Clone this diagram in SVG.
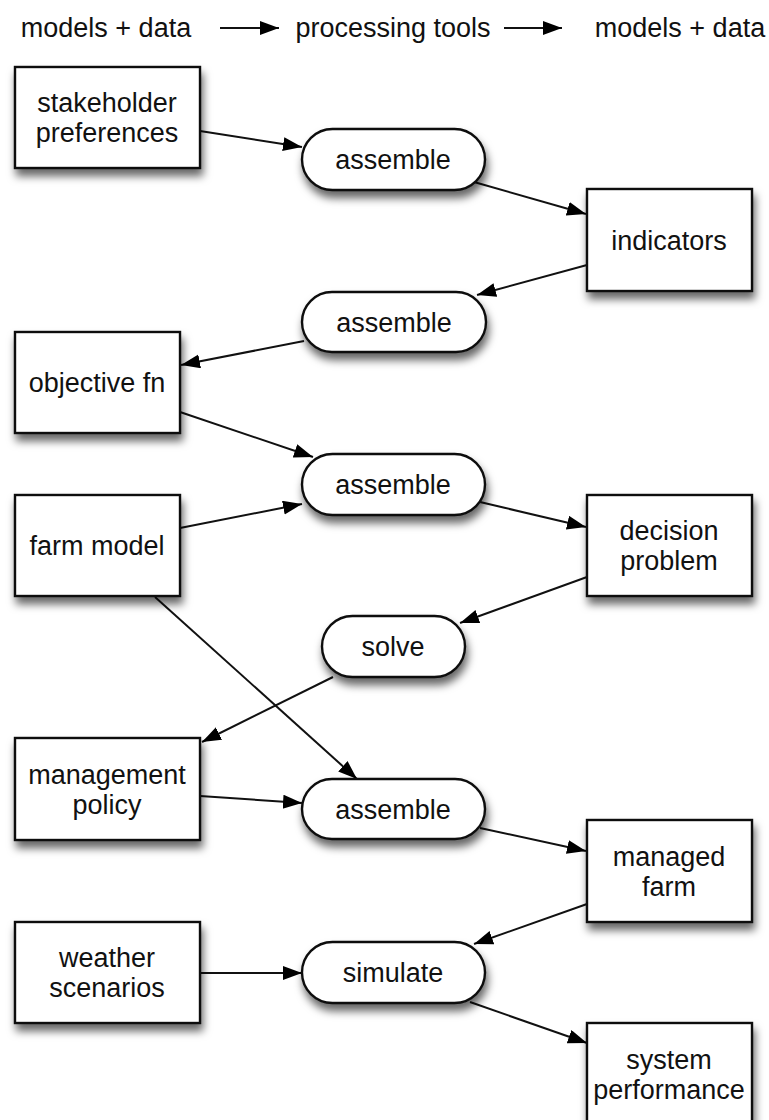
<svg xmlns="http://www.w3.org/2000/svg" width="769" height="1120" viewBox="0 0 769 1120">
  <defs>
    <filter id="shadow" x="-20%" y="-20%" width="150%" height="170%">
      <feDropShadow dx="2" dy="7" stdDeviation="4.5" flood-color="#000" flood-opacity="0.6"/>
    </filter>
    <marker id="head" markerUnits="userSpaceOnUse" markerWidth="20" markerHeight="15" refX="19" refY="7" orient="auto">
      <path d="M0,0 L19,7 L0,14 z" fill="#000"/>
    </marker>
  </defs>
  <style>
    text { font-family: "Liberation Sans", Arial, sans-serif; font-size: 27px; fill: #111; text-anchor: middle; }
    .box { fill: #fff; stroke: #111; stroke-width: 2.4; filter: url(#shadow); }
    .edge { stroke: #111; stroke-width: 2; fill: none; marker-end: url(#head); }
  </style>
  <rect width="769" height="1120" fill="#fff"/>

  <!-- column headings -->
  <g id="header">
    <text x="106" y="37">models + data</text>
    <text x="393" y="37">processing tools</text>
    <text x="680" y="37">models + data</text>
    <line class="edge" x1="220" y1="28" x2="279" y2="28"/>
    <line class="edge" x1="504" y1="28" x2="562" y2="28"/>
  </g>

  <!-- connectors -->
  <g id="connectors">
    <line class="edge" x1="200" y1="131" x2="302" y2="147"/>
    <line class="edge" x1="474" y1="182" x2="586" y2="214"/>
    <line class="edge" x1="587" y1="265" x2="477" y2="295"/>
    <line class="edge" x1="304" y1="341" x2="181" y2="365"/>
    <line class="edge" x1="180" y1="412" x2="313" y2="457"/>
    <line class="edge" x1="180" y1="528" x2="302" y2="504"/>
    <line class="edge" x1="480" y1="502" x2="586" y2="527"/>
    <line class="edge" x1="587" y1="577" x2="460" y2="623"/>
    <line class="edge" x1="333" y1="677" x2="202" y2="742"/>
    <line class="edge" x1="155" y1="597" x2="357" y2="779"/>
    <line class="edge" x1="200" y1="796" x2="302" y2="803"/>
    <line class="edge" x1="480" y1="828" x2="586" y2="851"/>
    <line class="edge" x1="587" y1="904" x2="474" y2="944"/>
    <line class="edge" x1="200" y1="973" x2="302" y2="973"/>
    <line class="edge" x1="470" y1="1002" x2="587" y2="1043"/>
  </g>

  <!-- models + data -->
  <g id="stakeholder-preferences">
    <rect class="box" x="15" y="67" width="185" height="101"/>
    <text x="107" y="112">stakeholder</text>
    <text x="107" y="142">preferences</text>
  </g>
  <g id="indicators">
    <rect class="box" x="587" y="189" width="165" height="102"/>
    <text x="669" y="250">indicators</text>
  </g>
  <g id="objective-fn">
    <rect class="box" x="15" y="332" width="165" height="101"/>
    <text x="97" y="392">objective fn</text>
  </g>
  <g id="farm-model">
    <rect class="box" x="15" y="495" width="165" height="101"/>
    <text x="97" y="555">farm model</text>
  </g>
  <g id="decision-problem">
    <rect class="box" x="587" y="495" width="165" height="101"/>
    <text x="669" y="540">decision</text>
    <text x="669" y="570">problem</text>
  </g>
  <g id="management-policy">
    <rect class="box" x="15" y="738" width="185" height="102"/>
    <text x="107" y="784">management</text>
    <text x="107" y="814">policy</text>
  </g>
  <g id="managed-farm">
    <rect class="box" x="587" y="820" width="165" height="102"/>
    <text x="669" y="866">managed</text>
    <text x="669" y="896">farm</text>
  </g>
  <g id="weather-scenarios">
    <rect class="box" x="15" y="922" width="185" height="101"/>
    <text x="107" y="967">weather</text>
    <text x="107" y="997">scenarios</text>
  </g>
  <g id="system-performance">
    <rect class="box" x="587" y="1023" width="165" height="101"/>
    <text x="669" y="1069">system</text>
    <text x="669" y="1099">performance</text>
  </g>

  <!-- processing tools -->
  <g id="assemble-indicators">
    <rect class="box" x="302" y="129" width="183" height="61" rx="30.5"/>
    <text x="393" y="169">assemble</text>
  </g>
  <g id="assemble-objective">
    <rect class="box" x="302" y="292" width="184" height="60" rx="30"/>
    <text x="394" y="332">assemble</text>
  </g>
  <g id="assemble-decision">
    <rect class="box" x="302" y="454" width="183" height="61" rx="30.5"/>
    <text x="393" y="494">assemble</text>
  </g>
  <g id="solve">
    <rect class="box" x="322" y="616" width="143" height="61" rx="30.5"/>
    <text x="393" y="656">solve</text>
  </g>
  <g id="assemble-farm">
    <rect class="box" x="302" y="779" width="183" height="60" rx="30"/>
    <text x="393" y="819">assemble</text>
  </g>
  <g id="simulate">
    <rect class="box" x="302" y="942" width="183" height="61" rx="30.5"/>
    <text x="393" y="982">simulate</text>
  </g>
</svg>
